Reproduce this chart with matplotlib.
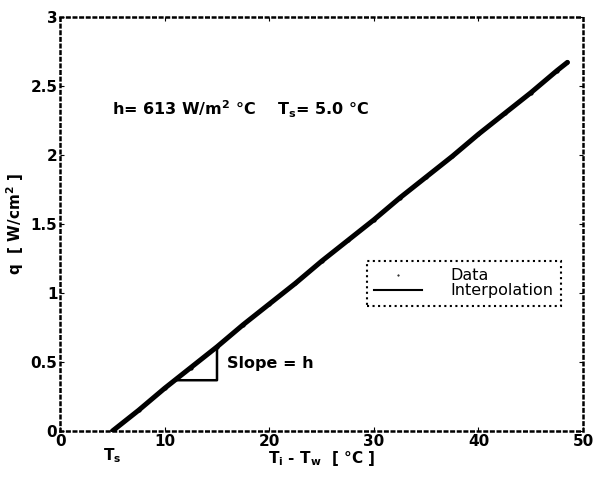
import matplotlib.pyplot as plt
from matplotlib.lines import Line2D

t_diff = [5.0, 7.5, 10, 12.5, 15, 17.5, 20, 22.5, 25, 27.5, 30, 32.5, 35, 37.5, 40, 42.5, 45, 47.5, 48.5]
q_data = [0.0, 0.15, 0.31, 0.46, 0.61, 0.77, 0.92, 1.07, 1.23, 1.38, 1.53, 1.69, 1.84, 1.99, 2.15, 2.30, 2.45, 2.61, 2.67]

# fitted line end points
t_fit = [5.0, 48.5]
q_fit = [0.0, 2.667]

# slope triangle corners
tri_t = [11, 15, 15, 11]
tri_q = [0.368, 0.368, 0.613, 0.368]

xticks = [0, 10, 20, 30, 40, 50]
yticks = [0, 0.5, 1, 1.5, 2, 2.5, 3]
ytick_labels = ["0", "0.5", "1", "1.5", "2", "2.5", "3"]

plt.rcParams['font.family'] = ['DejaVu Sans']
plt.rcParams['font.weight'] = 'bold'
plt.rcParams['mathtext.fontset'] = 'dejavusans'

fig = plt.figure(figsize=(5.95, 4.8), dpi=100)
ax = fig.add_axes([0.101, 0.102, 0.879, 0.863])

ax.plot(t_diff, q_data, color='black', lw=3.6, marker='.', ms=4, solid_capstyle='round')
ax.plot(t_fit, q_fit, color='black', lw=1.5)
ax.plot(tri_t, tri_q, color='black', lw=1.8)

ax.text(16, 0.49, "Slope = h", fontsize=11.5, fontweight='bold', va='center')
ax.text(5, 2.33, r"h= 613 W/m$^\mathbf{2}$ °C    T$_\mathbf{s}$= 5.0 °C", fontsize=11.5, fontweight='bold', va='center')

ax.set_xlim(0, 50)
ax.set_ylim(0, 3)
ax.set_xticks(xticks)
ax.set_yticks(yticks)
ax.set_yticklabels(ytick_labels)
ax.tick_params(direction='in', top=True, right=True, length=3, labelsize=11, pad=2)
for s in ax.spines.values():
    s.set_linestyle(':')
    s.set_linewidth(1.8)

# extra label for T_s under the axis
ax.text(5, -0.11, r"T$_\mathbf{s}$", fontsize=11, fontweight='bold', ha='center', va='top')

ax.set_xlabel(r"T$_\mathbf{i}$ - T$_\mathbf{w}$  [ °C ]", fontsize=11, fontweight='bold', labelpad=0)
ax.set_ylabel(r"q  [ W/cm$^\mathbf{2}$ ]", fontsize=11, fontweight='bold', labelpad=3)

handles = [Line2D([], [], color='black', marker='.', ms=1, linestyle='none'),
           Line2D([], [], color='black', lw=1.5)]
leg = ax.legend(handles, ["Data", "Interpolation"], loc='upper left',
                bbox_to_anchor=(0.586, 0.41), fancybox=False, framealpha=1,
                prop={'size': 11.5, 'weight': 'normal'}, handlelength=3.0,
                handletextpad=1.8, borderpad=0.45, labelspacing=0.0, borderaxespad=0)
leg.get_frame().set_edgecolor('black')
leg.get_frame().set_linestyle(':')
leg.get_frame().set_linewidth(1.5)

fig.savefig("out.png", dpi=100)
